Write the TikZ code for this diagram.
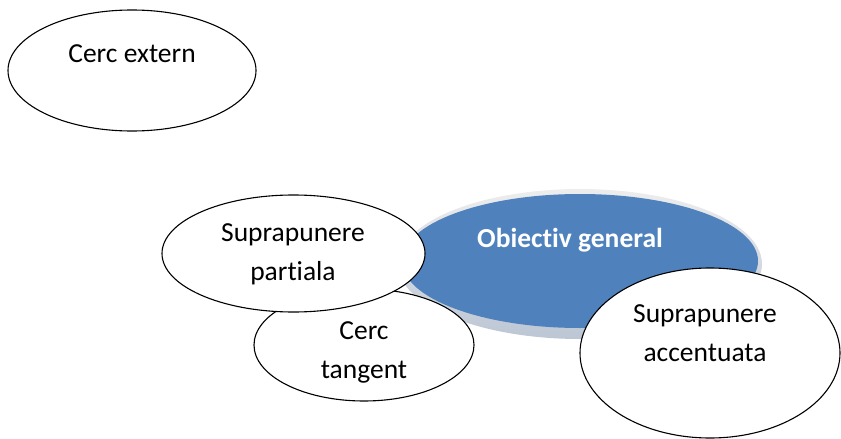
\documentclass[tikz,border=0pt]{standalone}
\usepackage{fontspec}
\setmainfont[RawFeature={-liga}]{Carlito}
\usetikzlibrary{shapes.geometric}
\definecolor{accblue}{HTML}{4F81BD}
\definecolor{rimtop}{HTML}{EDEDED}
\definecolor{rimbot}{HTML}{BCC6D4}
\begin{document}
\begin{tikzpicture}[x=1pt,y=-1pt,
  bubble/.style={ellipse, draw=black, line width=1.1pt, fill=white, inner sep=0pt},
  lbl/.style={font=\fontsize{27.5}{39}\selectfont, align=center, inner sep=0pt, text=black},
]
\useasboundingbox (0,0) rectangle (841,439);
% central blue ellipse with rim
\node[ellipse, inner sep=0pt, minimum width=364pt, minimum height=150pt,
      top color=rimtop, bottom color=rimbot] (rim) at (580,264) {};
\node[ellipse, inner sep=0pt, minimum width=356pt, minimum height=134pt,
      fill=accblue] (goal) at (580,261) {};
\node[font=\bfseries\fontsize{27.5}{39}\selectfont, text=white, inner sep=0pt] (goaltxt) at (570,240) {Obiectiv general};
% outer circle
\node[bubble, minimum width=248pt, minimum height=121pt] (ext) at (132,70.5) {};
\node[lbl] (exttxt) at (132,54) {Cerc extern};
% tangent
\node[bubble, minimum width=220pt, minimum height=112pt] (tan) at (364,345) {};
\node[lbl] (tantxt) at (364,352) {Cerc\\tangent};
% partial overlap
\node[bubble, minimum width=263pt, minimum height=117pt] (part) at (293.5,253.5) {};
\node[lbl] (parttxt) at (293,254) {Suprapunere\\partiala};
% strong overlap
\node[bubble, minimum width=260pt, minimum height=170pt] (acc) at (710,353) {};
\node[lbl] (acctxt) at (705,333) {Suprapunere\\accentuata};
\end{tikzpicture}
\end{document}
